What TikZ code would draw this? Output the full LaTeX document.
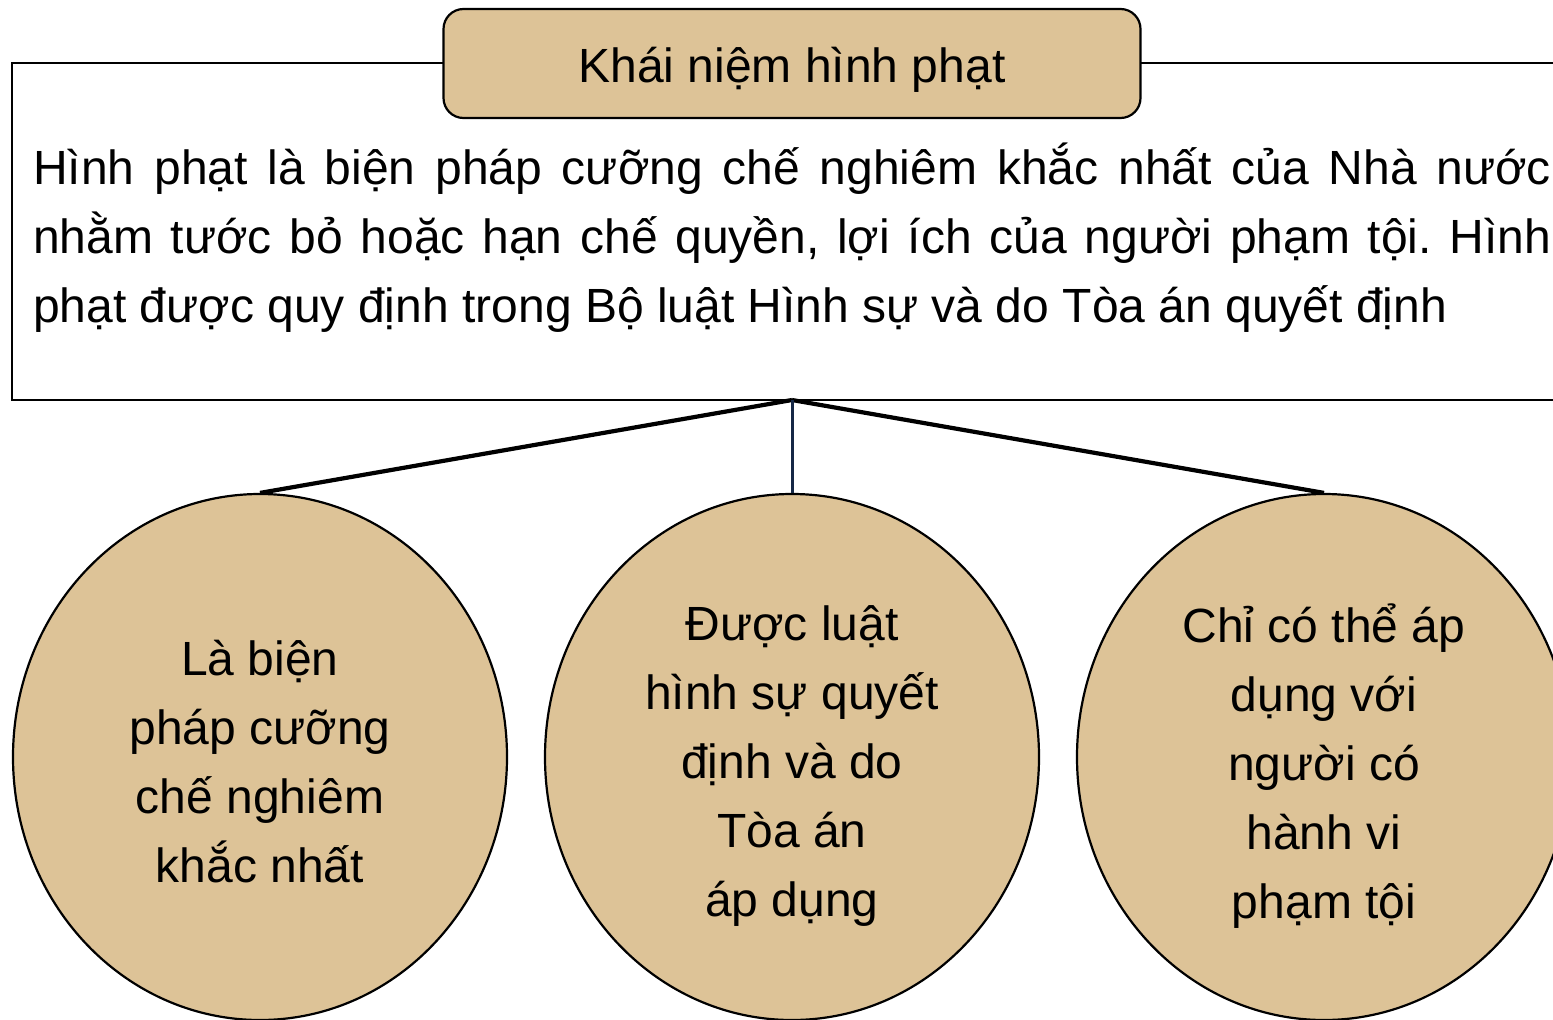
\documentclass[tikz,border=0pt]{standalone}
\usepackage{fontspec}
\setmainfont{Liberation Sans}
\usetikzlibrary{shapes.geometric}
\definecolor{tan}{RGB}{221,195,151}
\definecolor{navy}{RGB}{22,40,70}
\frenchspacing
\begin{document}
\begin{tikzpicture}[x=1pt,y=-1pt,
  bigtext/.style={font=\fontsize{48}{69}\selectfont},
  bubble/.style={ellipse,draw=black,line width=2.2pt,fill=tan,minimum width=494pt,minimum height=526pt,inner sep=0pt},
  bubbletext/.style={align=center,inner sep=0pt,bigtext},
  titlebox/.style={draw=black,line width=2.2pt,fill=tan,rounded corners=20pt,minimum width=697pt,minimum height=109pt,inner sep=0pt},
  link/.style={line width=4.2pt},
  midlink/.style={line width=3pt,draw=navy}]
\useasboundingbox (0,0) rectangle (1553,1020);
\clip (0,0) rectangle (1553,1020);
% concept frame and its definition
\draw[line width=2.4pt] (12,63) rectangle (1575,400);
\node[anchor=north west,inner sep=0pt,text width=1518pt,align=justify,bigtext] (def) at (33,143)
  {Hình phạt là biện pháp cưỡng chế nghiêm khắc nhất của Nhà nước\linebreak nhằm tước bỏ hoặc hạn chế quyền, lợi ích của người phạm tội. Hình\linebreak phạt được quy định trong Bộ luật Hình sự và do Tòa án quyết định};
\node[titlebox] (title) at (792,63.5) {};
\node[bubbletext] (titletext) at ([yshift=-6pt]title.center) {Khái niệm hình phạt};
\coordinate (hub) at (792,400);
% three characteristics
\node[bubble] (c1) at (260,757) {};
\node[bubble] (c2) at (792,757) {};
\node[bubble] (c3) at (1324,757) {};
\node[bubbletext] (t1) at ([yshift=-5pt]c1.center) {Là biện\\pháp cưỡng\\chế nghiêm\\khắc nhất};
\node[bubbletext] (t2) at ([yshift=-9pt]c2.center) {Được luật\\hình sự quyết\\định và do\\Tòa án\\áp dụng};
\node[bubbletext] (t3) at ([yshift=-9pt]c3.center) {Chỉ có thể áp\\dụng với\\người có\\hành vi\\phạm tội};
\draw[link] (hub) -- (c1.north);
\draw[link] (hub) -- (c3.north);
\draw[midlink] (hub) -- (c2.north);
\end{tikzpicture}
\end{document}
